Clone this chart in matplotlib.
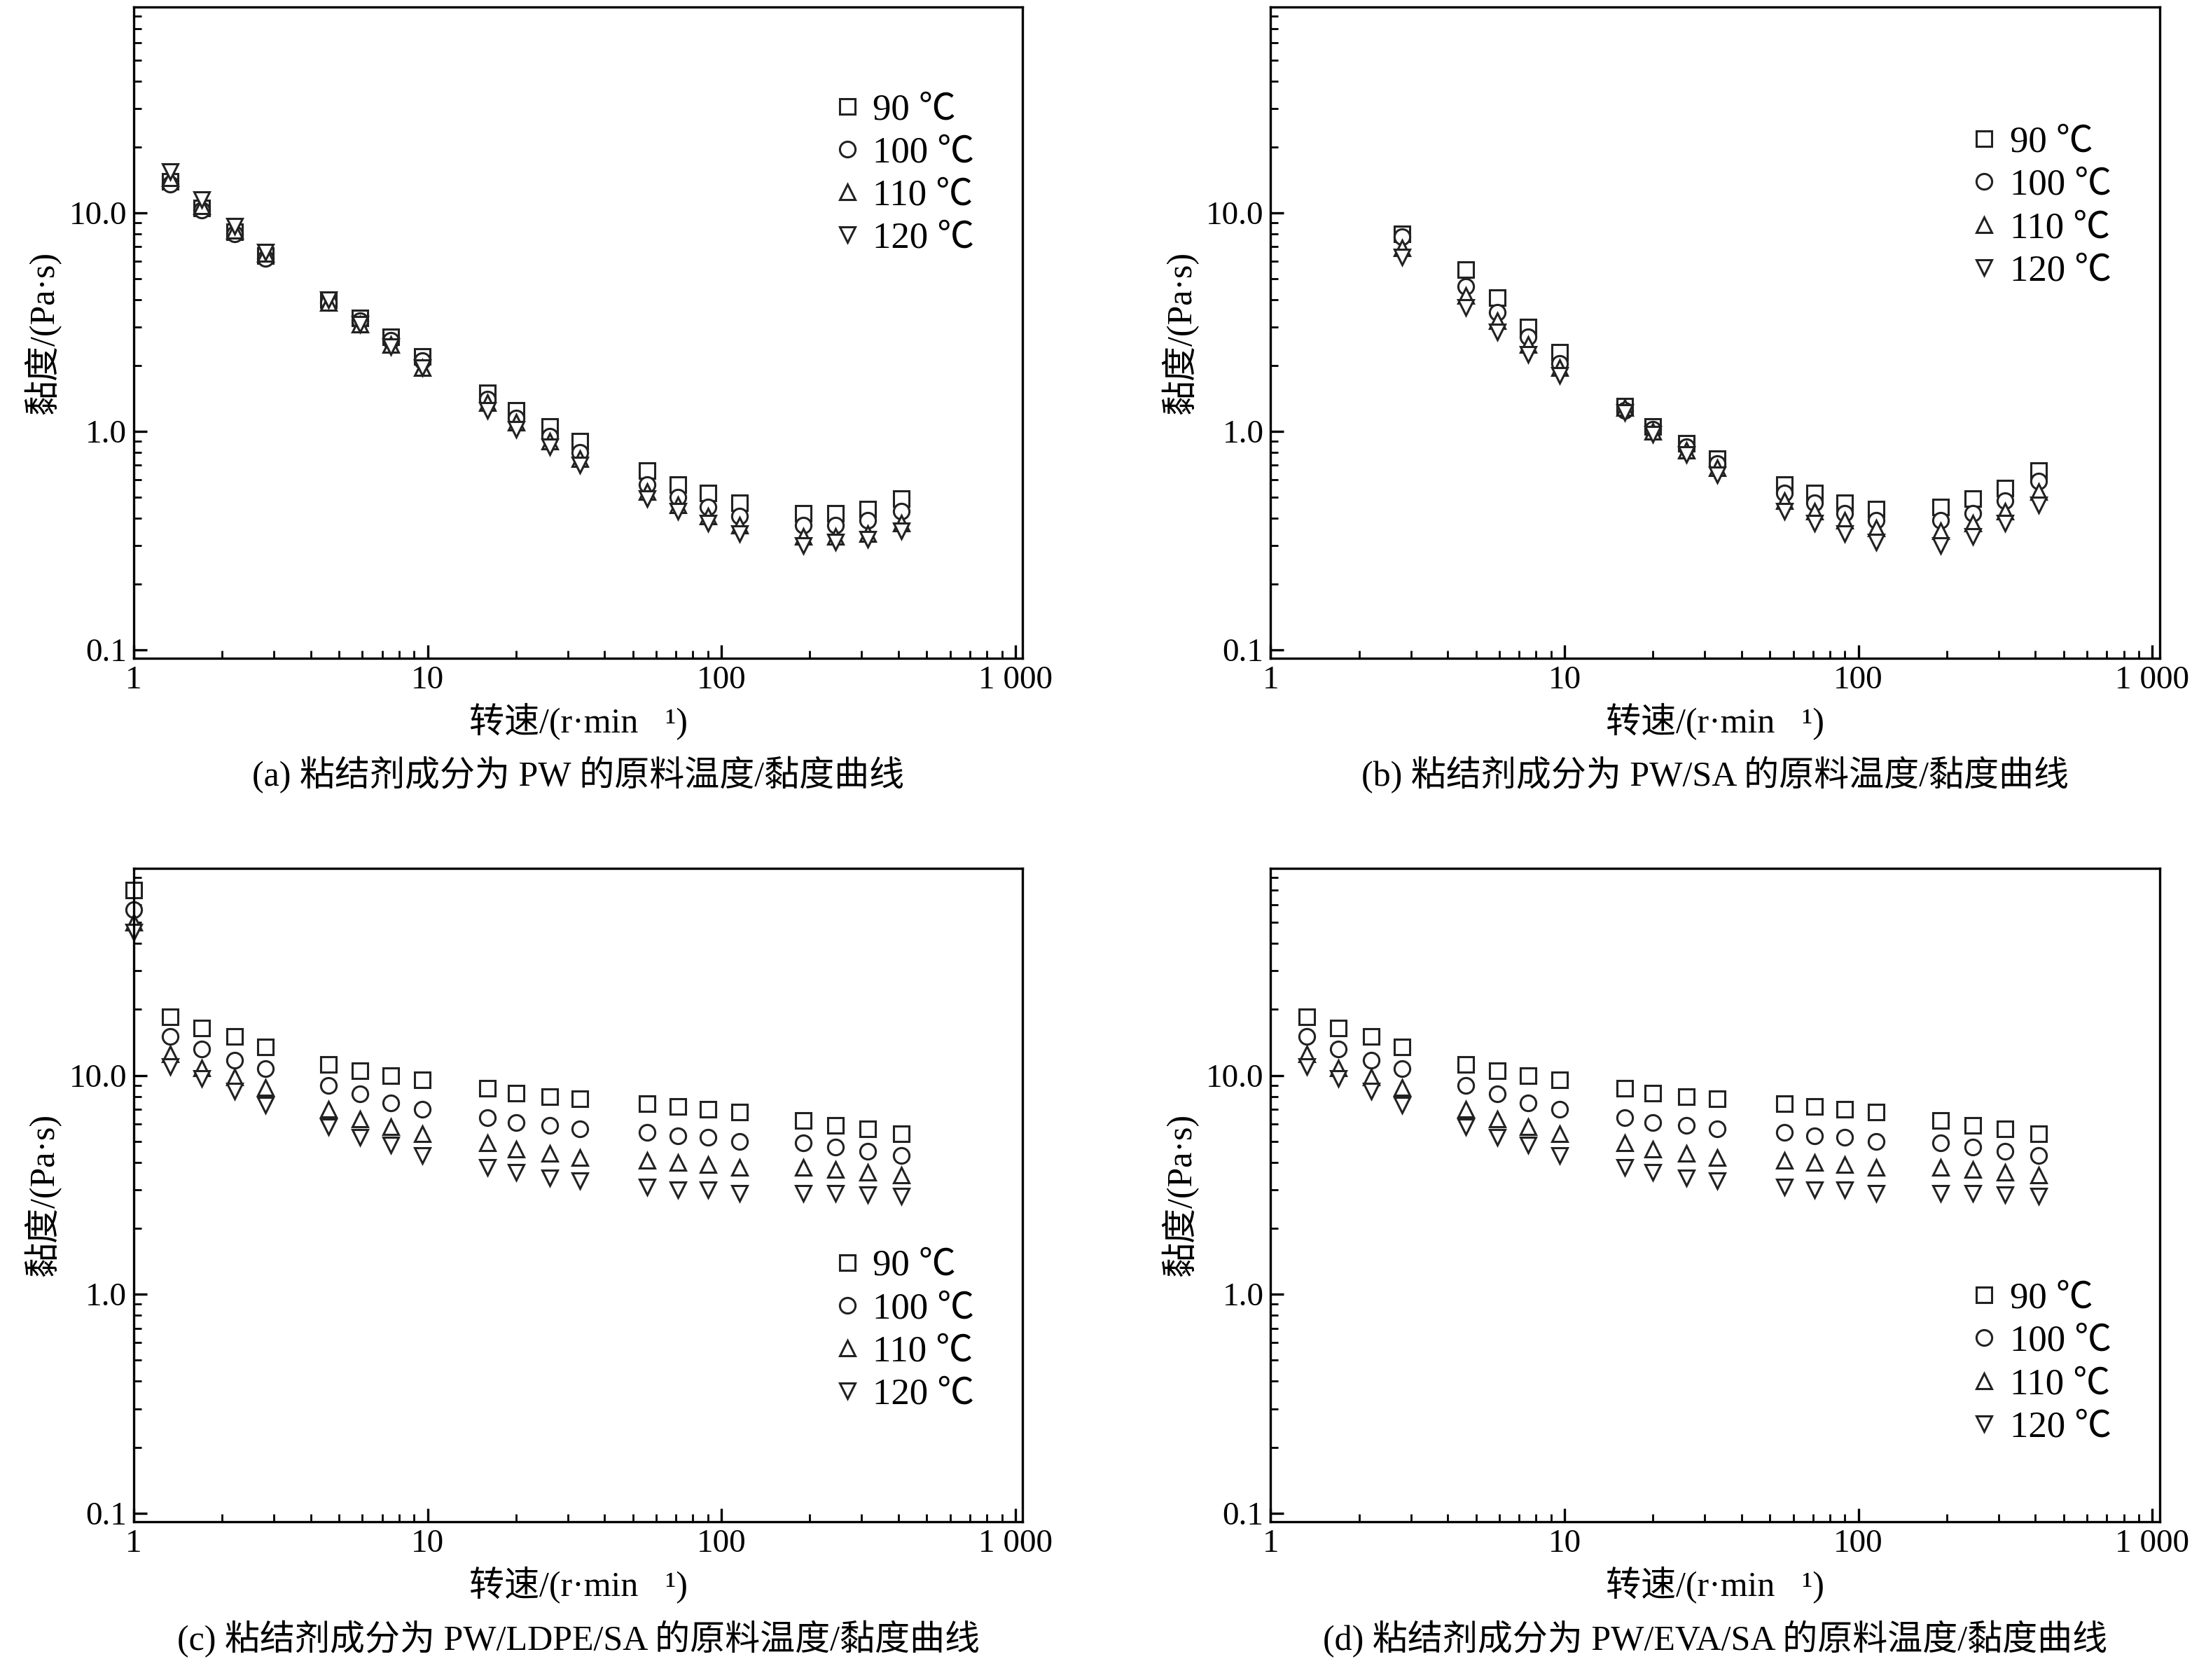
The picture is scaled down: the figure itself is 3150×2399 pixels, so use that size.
import numpy as np
import matplotlib.pyplot as plt
from matplotlib.ticker import FixedLocator, FixedFormatter, LogLocator, NullFormatter

plt.rcParams['font.family'] = ['Liberation Serif', 'Noto Sans CJK SC']

temps = ['90 ℃', '100 ℃', '110 ℃', '120 ℃']
markers = ['s', 'o', '^', 'v']

x_a = [1.33, 1.7, 2.2, 2.8, 4.6, 5.9, 7.5, 9.6, 16, 20, 26, 33, 56, 71, 90, 115, 190, 245, 315, 410]
a_90 = [14, 10.5, 8.2, 6.4, 4.0, 3.3, 2.7, 2.2, 1.5, 1.25, 1.05, 0.9, 0.66, 0.57, 0.52, 0.47, 0.42, 0.42, 0.44, 0.49]
a_100 = [13.5, 10.3, 8.0, 6.2, 3.9, 3.2, 2.6, 2.1, 1.4, 1.15, 0.95, 0.8, 0.57, 0.5, 0.45, 0.41, 0.37, 0.37, 0.39, 0.43]
a_110 = [14.5, 10.8, 8.3, 6.5, 3.9, 3.1, 2.5, 1.95, 1.35, 1.1, 0.9, 0.75, 0.53, 0.46, 0.41, 0.37, 0.33, 0.33, 0.34, 0.38]
a_120 = [15.5, 11.5, 8.7, 6.6, 4.0, 3.1, 2.45, 1.95, 1.25, 1.02, 0.85, 0.7, 0.49, 0.43, 0.38, 0.34, 0.30, 0.31, 0.32, 0.35]

x_b = [2.8, 4.6, 5.9, 7.5, 9.6, 16, 20, 26, 33, 56, 71, 90, 115, 190, 245, 315, 410]
b_90 = [8.0, 5.5, 4.1, 3.0, 2.3, 1.3, 1.05, 0.88, 0.75, 0.57, 0.52, 0.47, 0.44, 0.45, 0.49, 0.55, 0.66]
b_100 = [7.8, 4.6, 3.5, 2.7, 2.05, 1.25, 1.02, 0.85, 0.71, 0.52, 0.47, 0.42, 0.39, 0.39, 0.42, 0.48, 0.59]
b_110 = [6.9, 4.2, 3.2, 2.5, 1.95, 1.28, 1.0, 0.82, 0.68, 0.48, 0.43, 0.39, 0.36, 0.35, 0.38, 0.43, 0.53]
b_120 = [6.3, 3.7, 2.85, 2.25, 1.8, 1.22, 0.97, 0.78, 0.63, 0.43, 0.38, 0.34, 0.31, 0.3, 0.33, 0.38, 0.46]

x_c = [1.0] + x_a
c_90 = [70, 18.5, 16.5, 15, 13.5, 11.2, 10.5, 10, 9.5, 8.7, 8.3, 8.0, 7.8, 7.4, 7.2, 7.0, 6.8, 6.2, 5.9, 5.7, 5.4]
c_100 = [57, 15, 13.2, 11.7, 10.7, 9.0, 8.2, 7.5, 7.0, 6.4, 6.1, 5.9, 5.7, 5.5, 5.3, 5.2, 5.0, 4.9, 4.7, 4.5, 4.3]
c_110 = [50, 12.5, 10.8, 9.8, 8.8, 7.0, 6.3, 5.8, 5.4, 4.9, 4.6, 4.4, 4.2, 4.1, 4.0, 3.9, 3.8, 3.8, 3.7, 3.6, 3.5]
c_120 = [45, 11, 9.7, 8.5, 7.3, 5.8, 5.2, 4.8, 4.3, 3.8, 3.6, 3.4, 3.3, 3.1, 3.0, 3.0, 2.9, 2.9, 2.9, 2.85, 2.8]

x_d = x_a
d_90 = c_90[1:]
d_100 = c_100[1:]
d_110 = c_110[1:]
d_120 = c_120[1:]

captions = ['(a) 粘结剂成分为 PW 的原料温度/黏度曲线',
            '(b) 粘结剂成分为 PW/SA 的原料温度/黏度曲线',
            '(c) 粘结剂成分为 PW/LDPE/SA 的原料温度/黏度曲线',
            '(d) 粘结剂成分为 PW/EVA/SA 的原料温度/黏度曲线']

panels = [
    (x_a, [a_90, a_100, a_110, a_120], (0.765, 0.89)),
    (x_b, [b_90, b_100, b_110, b_120], (0.765, 0.84)),
    (x_c, [c_90, c_100, c_110, c_120], (0.765, 0.44)),
    (x_d, [d_90, d_100, d_110, d_120], (0.765, 0.39)),
]
rects = [(0.0606, 0.608, 0.403, 0.388), (0.576, 0.608, 0.403, 0.388),
         (0.0606, 0.094, 0.403, 0.389), (0.576, 0.094, 0.403, 0.389)]

fig = plt.figure(figsize=(15.75, 11.995), dpi=200)
for i, ((xs, ys, legpos), rect) in enumerate(zip(panels, rects)):
    ax = fig.add_axes(rect)
    for y, m, lab in zip(ys, markers, temps):
        ax.plot(xs, y, linestyle='none', marker=m, ms=8, mfc='white', mec='#222222', mew=1.1,
                label=lab, clip_on=False)
    ax.set_xscale('log')
    ax.set_yscale('log')
    ax.set_xlim(1, 1060)
    ax.set_ylim(0.091, 88)
    ax.xaxis.set_major_locator(FixedLocator([1, 10, 100, 1000]))
    ax.xaxis.set_major_formatter(FixedFormatter(['1', '10', '100', '1 000']))
    ax.yaxis.set_major_locator(FixedLocator([0.1, 1, 10]))
    ax.yaxis.set_major_formatter(FixedFormatter(['0.1', '1.0', '10.0']))
    ax.xaxis.set_minor_locator(LogLocator(base=10, subs=np.arange(2, 10)))
    ax.yaxis.set_minor_locator(LogLocator(base=10, subs=np.arange(2, 10)))
    ax.xaxis.set_minor_formatter(NullFormatter())
    ax.yaxis.set_minor_formatter(NullFormatter())
    ax.tick_params(which='both', direction='in', top=False, right=False, labelsize=17)
    ax.tick_params(which='major', length=7, width=1.2)
    ax.tick_params(which='minor', length=4, width=1.0)
    for s in ax.spines.values():
        s.set_linewidth(1.2)
    ax.set_xlabel('转速/(r·min⁻¹)', fontsize=18, labelpad=4)
    ax.set_ylabel('黏度/(Pa·s)', fontsize=18, labelpad=4)
    ax.legend(loc='upper left', bbox_to_anchor=legpos, frameon=False, fontsize=19,
              handletextpad=0.2, labelspacing=0.25, borderaxespad=0, handlelength=1.0)
    ax.text(0.5, -0.15, captions[i], transform=ax.transAxes, ha='center', va='top', fontsize=18)

fig.savefig('out.png', dpi=200)
